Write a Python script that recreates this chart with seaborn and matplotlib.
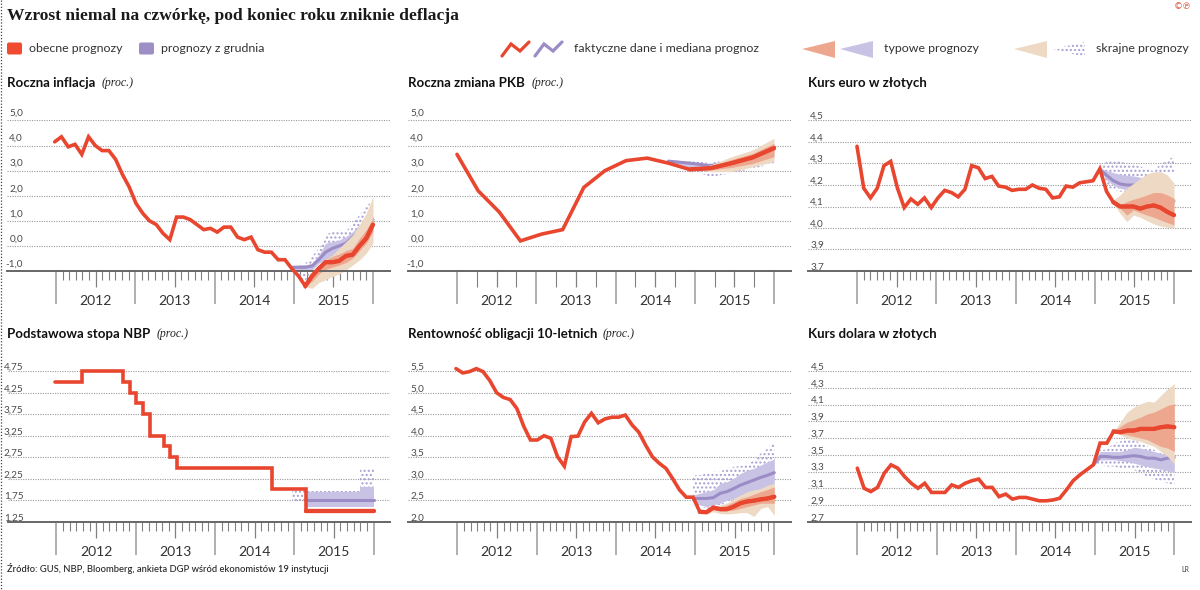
import numpy as np
import matplotlib
matplotlib.use("Agg")
import matplotlib.pyplot as plt
from matplotlib.patches import FancyBboxPatch, Polygon
from matplotlib.transforms import ScaledTranslation
import seaborn as sns

sns.set_style("white")
plt.rcParams["font.family"] = ["Lato", "DejaVu Sans"]

# ---------- data ----------
infl_values = [4.15,4.35,3.95,4.05,3.65,4.35,4.0,3.8,3.8,3.45,2.85,2.35,1.7,1.3,1.0,0.85,0.5,0.25,1.15,1.15,1.05,0.85,0.65,0.7,
               0.55,0.75,0.75,0.35,0.25,0.35,-0.15,-0.25,-0.25,-0.55,-0.55,-0.9,-1.2,-1.6,-1.2,-0.9,-0.65,-0.65,-0.6,-0.4,-0.35,0.0,0.3,0.85]
infl_tan_hi = [-1.55,-1.16,-.76,-.53,-.36,-.09,.17,.44,.84,1.3,1.97]
infl_tan_lo = [-1.62,-1.69,-1.46,-1.35,-1.22,-1.12,-.96,-.76,-.56,-.29,.11]
infl_red_hi = [-1.58,-1.22,-.89,-.56,-.42,-.32,-.19,-.09,.3,.64,1.10]
infl_red_lo = [-1.58,-1.42,-1.12,-.93,-.85,-.76,-.66,-.49,-.19,.11,.57]
infl_pur_med = [-.85,-.85,-.85,-.8,-.55,-.25,-.1,0,.1,.35,.6,.85,1.05]
infl_pur_hi = [-.86,-.76,-.76,-.69,-.36,.11,.17,.24,.37,.57,.84,1.1,1.17]
infl_pur_lo = [-.89,-1.02,-1.02,-.96,-.69,-.56,-.42,-.23,-.03,.24,.5,.7,.9]
infl_sti_hi = [-.82,-.76,-.69,-.42,-.09,.44,.57,.64,.57,.9,1.24,1.57,1.83]
infl_sti_lo = [-.89,-1.22,-1.42,-.96,-.69,-.62,-.42,-.29,-.16,.11,.37,.64,.97]
infl_ticks = [-1,0,1,2,3,4,5]
infl_labels = ["-1,0","0,0","1,0","2,0","3,0","4,0","5,0"]

pkb_values = [3.65,2.2,1.35,0.2,0.47,0.65,2.33,3.0,3.4,3.5,3.3,3.05,3.1,3.3,3.53,3.9]
pkb_tan_hi = [3.07,3.23,3.56,3.83,4.29]
pkb_tan_lo = [3.07,2.96,2.96,3.16,3.36]
pkb_red_hi = [3.07,3.19,3.45,3.69,4.09]
pkb_red_lo = [3.07,3.03,3.13,3.29,3.56]
pkb_pur_med = [3.38,3.3,3.2,3.35,3.55,3.85]
pkb_pur_hi = [3.42,3.35,3.25,3.4,3.6,3.95]
pkb_pur_lo = [3.36,3.15,3.05,3.25,3.45,3.75]
pkb_sti_hi = [3.4,3.4,3.3,3.5,3.8,4.1]
pkb_sti_lo = [3.38,3.05,2.75,2.9,3.07,3.3]

eur_values = [4.38,4.185,4.14,4.185,4.29,4.31,4.185,4.095,4.135,4.11,4.14,4.095,4.14,4.175,4.165,4.145,4.18,4.29,4.28,4.23,4.24,4.195,4.19,4.175,
              4.18,4.18,4.2,4.185,4.18,4.14,4.145,4.195,4.19,4.21,4.215,4.22,4.275,4.17,4.12,4.10,4.10,4.10,4.09,4.10,4.105,4.095,4.075,4.06]
eur_tan_hi = [4.13,4.154,4.185,4.208,4.231,4.252,4.261,4.262,4.247,4.208]
eur_tan_lo = [4.115,4.068,4.03,4.06,4.05,4.034,4.019,4.009,4.003,4.0]
eur_red_hi = [4.123,4.107,4.123,4.134,4.143,4.154,4.165,4.165,4.154,4.138]
eur_red_lo = [4.123,4.092,4.06,4.084,4.071,4.06,4.05,4.037,4.025,4.014]
eur_pur_med = [4.275,4.245,4.22,4.205,4.2,4.2,4.205,4.205,4.19,4.17,4.15,4.125]
eur_pur_hi = [4.273,4.267,4.258,4.25,4.245,4.242,4.236,4.231,4.22,4.2,4.17,4.13]
eur_pur_lo = [4.273,4.224,4.2,4.185,4.177,4.18,4.19,4.196,4.17,4.15,4.13,4.11]
eur_sti_hi = [4.273,4.309,4.309,4.309,4.301,4.293,4.286,4.278,4.262,4.301,4.309,4.34]
eur_sti_lo = [4.273,4.193,4.177,4.169,4.169,4.177,4.185,4.193,4.224,4.239,4.255,4.262]
eur_ticks = [3.8,3.9,4.0,4.1,4.2,4.3,4.4,4.5]
eur_labels = ["3,7","3,9","4,0","4,1","4,2","4,3","4,4","4,5"]

nbp_values = [4.5]*4 + [4.75]*6 + [4.5,4.25,4.0,3.75,3.25,3.25,3.0,2.75] + [2.5]*14 + [2.0]*5 + [1.5]*11
nbp_pur_med = [1.75]*11
nbp_pur_hi = [1.95]*8 + [2.05]*3
nbp_pur_lo = [1.6]*11
nbp_sti_hi = [1.97]*10 + [2.5]*3
nbp_sti_lo = [1.73,1.73] + [1.6]*11
nbp_ticks = [1.25,1.75,2.25,2.75,3.25,3.75,4.25,4.75]
nbp_labels = ["1,25","1,75","2,25","2,75","3,25","3,75","4,25","4,75"]

bond_values = [5.56,5.46,5.49,5.56,5.49,5.28,5.0,4.89,4.84,4.63,4.22,3.9,3.9,4.0,3.94,3.51,3.29,3.98,3.99,4.32,4.52,4.3,4.39,4.43,
               4.43,4.48,4.25,4.08,3.78,3.51,3.36,3.24,3.0,2.74,2.57,2.57,2.23,2.22,2.33,2.29,2.29,2.35,2.43,2.47,2.49,2.52,2.54,2.58]
bond_tan_hi = [2.23,2.23,2.35,2.39,2.43,2.54,2.62,2.7,2.74,2.77,2.85,2.89]
bond_tan_lo = [2.23,2.19,2.23,2.19,2.18,2.19,2.21,2.21,2.12,2.31,2.35,2.15]
bond_red_hi = [2.23,2.23,2.31,2.35,2.39,2.46,2.54,2.58,2.64,2.70,2.75,2.81]
bond_red_lo = [2.23,2.22,2.27,2.26,2.26,2.27,2.31,2.35,2.39,2.43,2.43,2.43]
bond_pur_med = [2.54,2.54,2.54,2.56,2.66,2.70,2.77,2.85,2.91,2.97,3.03,3.08,3.14]
bond_pur_hi = [2.62,2.66,2.70,2.74,2.89,2.93,3.01,3.12,3.2,3.24,3.32,3.39,3.46]
bond_pur_lo = [2.5,2.39,2.35,2.39,2.43,2.5,2.54,2.58,2.66,2.7,2.77,2.81,2.89]
bond_sti_hi = [3.08,3.08,3.12,3.16,3.16,3.24,3.28,3.29,3.32,3.43,3.59,3.70,3.84]
bond_sti_lo = [2.5,2.35,2.31,2.31,2.39,2.43,2.46,2.5,2.58,2.66,2.7,2.77,2.81]
bond_ticks = [2.0,2.5,3.0,3.5,4.0,4.5,5.0,5.5]
bond_labels = ["2,0","2,5","3,0","3,5","4,0","4,5","5,0","5,5"]

usd_values = [3.34,3.10,3.06,3.11,3.28,3.38,3.34,3.24,3.16,3.10,3.16,3.05,3.05,3.05,3.14,3.11,3.16,3.19,3.21,3.11,3.11,3.0,3.03,2.97,
              2.99,2.99,2.97,2.95,2.95,2.96,2.98,3.08,3.19,3.26,3.32,3.38,3.64,3.64,3.78,3.77,3.79,3.79,3.81,3.81,3.81,3.83,3.84,3.83]
usd_tan_hi = [3.78,3.89,4.01,4.07,4.11,4.14,4.13,4.21,4.29,4.35]
usd_tan_lo = [3.78,3.74,3.70,3.68,3.66,3.63,3.60,3.54,3.48,3.39]
usd_red_hi = [3.78,3.84,3.89,3.92,3.95,3.99,4.01,4.05,4.09,4.11]
usd_red_lo = [3.78,3.75,3.74,3.72,3.70,3.68,3.64,3.60,3.58,3.54]
usd_pur_med = [3.38,3.48,3.48,3.47,3.47,3.48,3.49,3.48,3.46,3.46,3.44,3.46,3.47]
usd_pur_hi = [3.38,3.54,3.54,3.54,3.54,3.56,3.59,3.58,3.56,3.54,3.52,3.50,3.48]
usd_pur_lo = [3.38,3.44,3.44,3.44,3.43,3.42,3.40,3.38,3.36,3.34,3.33,3.31,3.29]
usd_sti_hi = [3.38,3.56,3.56,3.64,3.66,3.68,3.68,3.64,3.6,3.56,3.52,3.5,3.48]
usd_sti_lo = [3.38,3.38,3.36,3.36,3.34,3.34,3.32,3.28,3.24,3.21,3.18,3.16,3.14]
usd_ticks = [2.7,2.9,3.1,3.3,3.5,3.7,3.9,4.1,4.3,4.5]
usd_labels = ["2,7","2,9","3,1","3,3","3,5","3,7","3,9","4,1","4,3","4,5"]

year_labels = ["2012","2013","2014","2015"]

RED = "#e8462f"; PUR = "#9b8cc6"; RED_B = "#eea78f"; TAN = "#eed9c4"; PUR_B = "#c8c2e4"; STI = "#a99fd2"
GRID = "#9a9a9a"; TXT = "#333333"

# ---------- layout ----------
W, H = 1200, 590
fig = plt.figure(figsize=(W/100, H/100), dpi=100)
PX = 317/48
def make_axes(x0, base, ylim):
    left = x0 - 49
    ax = fig.add_axes([left/W, 1-base/H, 383/W, 150.5/H])
    ax.set_xlim(-49/PX, 334/PX)
    ax.set_ylim(*ylim)
    ax.patch.set_alpha(0)
    return ax

def draw_panel(ax, start, values, fc_from, ticks, labels, dy, quarterly=False, nbp=False,
               tan=None, red=None, pur=None, sti=None, pur_from=0, sti_from=None):
    n = len(values)
    xs = np.linspace(start, 48, n)
    # bands
    sx = sti_from if sti_from is not None else pur_from
    if sti is not None:
        ax.fill_between(xs[sx:sx+len(sti[0])], sti[1], sti[0], facecolor="none", edgecolor=STI,
                        hatch="....", linewidth=0, zorder=1, clip_on=False, step="post" if nbp else None)
    if pur is not None:
        ax.fill_between(xs[pur_from:pur_from+len(pur[1])], pur[2], pur[1], color=PUR_B, lw=0, zorder=1.2,
                        clip_on=False, step="post" if nbp else None)
        sns.lineplot(x=xs[pur_from:pur_from+len(pur[0])], y=pur[0], ax=ax, color=PUR, linewidth=2.2,
                     zorder=1.4, clip_on=False, errorbar=None)
    if tan is not None:
        ax.fill_between(xs[fc_from:], tan[1], tan[0], color=TAN, lw=0, zorder=1.6, clip_on=False)
    if red is not None:
        ax.fill_between(xs[fc_from:], red[1], red[0], color=RED_B, lw=0, zorder=1.8, clip_on=False)
    # red line
    kw = dict(drawstyle="steps-post") if nbp else {}
    sns.lineplot(x=xs, y=values, ax=ax, color=RED, linewidth=2.6, zorder=3, clip_on=False, errorbar=None,
                 solid_joinstyle="miter", **kw)
    sns.lineplot(x=xs[fc_from:], y=values[fc_from:], ax=ax, color=RED, linewidth=3.1, zorder=3, clip_on=False,
                 errorbar=None, **kw)
    ax.set_xlabel(""); ax.set_ylabel("")
    # grid and axes
    ax.set_yticks(ticks, labels=labels)
    ax.grid(axis="y", color=GRID, lw=0.8, ls=(0, (1, 1.2)))
    ax.set_axisbelow(True)
    for s in ["top", "left", "right"]:
        ax.spines[s].set_visible(False)
    ax.spines["bottom"].set_color("#666666"); ax.spines["bottom"].set_linewidth(1.4)
    off = ScaledTranslation(16/100, dy/100, fig.dpi_scale_trans)
    ax.tick_params(axis="y", length=0, pad=0, labelsize=7.2, labelcolor="#4a4a4a")
    for l in ax.get_yticklabels():
        l.set_transform(l.get_transform() + off)
    ax.set_xticks(np.arange(0, 49, 12), labels=[])
    step = 3 if quarterly else 1
    minor = [m for m in range(0, 48, step) if m % 6]
    ax.set_xticks(minor, minor=True)
    ax.tick_params(axis="x", which="major", length=23.8, width=1.1, color="#9a9a9a", bottom=True)
    ax.tick_params(axis="x", which="minor", length=11.5 if quarterly else 6.5, width=0.8, color="#808080", bottom=True)
    # half-year ticks carry the year labels
    sec = ax.secondary_xaxis("bottom")
    sec.set_xticks(np.arange(6, 48, 12), labels=year_labels)
    sec.tick_params(axis="x", length=11.5, width=0.9, color="#808080", pad=5.8, labelsize=10, labelcolor="#333333", bottom=True)
    sec.spines["bottom"].set_visible(False)

ax1 = make_axes(56, 271, (-1, 5))
draw_panel(ax1, -0.2, infl_values, 37, infl_ticks, infl_labels, 8,
           tan=(infl_tan_hi, infl_tan_lo), red=(infl_red_hi, infl_red_lo),
           pur=(infl_pur_med, infl_pur_hi, infl_pur_lo), sti=(infl_sti_hi, infl_sti_lo), pur_from=35)

ax2 = make_axes(457, 271, (-1, 5))
draw_panel(ax2, 0, pkb_values, 11, infl_ticks, infl_labels, 8, quarterly=True,
           tan=(pkb_tan_hi, pkb_tan_lo), red=(pkb_red_hi, pkb_red_lo),
           pur=(pkb_pur_med, pkb_pur_hi, pkb_pur_lo), sti=(pkb_sti_hi, pkb_sti_lo), pur_from=10)

ax3 = make_axes(857, 271, (3.8, 4.5))
draw_panel(ax3, 0, eur_values, 38, eur_ticks, eur_labels, 5,
           tan=(eur_tan_hi, eur_tan_lo), red=(eur_red_hi, eur_red_lo),
           pur=(eur_pur_med, eur_pur_hi, eur_pur_lo), sti=(eur_sti_hi, eur_sti_lo), pur_from=36)

ax4 = make_axes(56.5, 521.7, (1.25, 4.75))
draw_panel(ax4, -0.2, nbp_values, 37, nbp_ticks, nbp_labels, 5, nbp=True,
           pur=(nbp_pur_med, nbp_pur_hi, nbp_pur_lo), sti=(nbp_sti_hi, nbp_sti_lo), pur_from=37, sti_from=35)

ax5 = make_axes(457.3, 521.7, (2.0, 5.5))
draw_panel(ax5, -0.2, bond_values, 36, bond_ticks, bond_labels, 5,
           tan=(bond_tan_hi, bond_tan_lo), red=(bond_red_hi, bond_red_lo),
           pur=(bond_pur_med, bond_pur_hi, bond_pur_lo), sti=(bond_sti_hi, bond_sti_lo), pur_from=35)

ax6 = make_axes(857.3, 521.7, (2.7, 4.5))
draw_panel(ax6, 0, usd_values, 38, usd_ticks, usd_labels, 5,
           tan=(usd_tan_hi, usd_tan_lo), red=(usd_red_hi, usd_red_lo),
           pur=(usd_pur_med, usd_pur_hi, usd_pur_lo), sti=(usd_sti_hi, usd_sti_lo), pur_from=35)

# ---------- overlay: titles, legend, notes ----------
ov = fig.add_axes([0, 0, 1, 1], zorder=10)
ov.set_xlim(0, W); ov.set_ylim(H, 0); ov.axis("off"); ov.patch.set_alpha(0)

ov.plot([1, 1], [0, H], color="#444444", lw=0.9, ls=(0, (1, 1.5)))
ov.text(7, 15.5, "Wzrost niemal na czwórkę, pod koniec roku zniknie deflacja", fontsize=12.6, fontweight="bold",
        family="Liberation Serif", color="#1a1a1a", va="center")
ov.text(1183, 6.5, "©℗", fontsize=6.5, color="#e0553a", va="center", ha="center", family=["DejaVu Sans"])

def st(x, y, s, size=8.9, **k):
    ov.text(x, y, s, fontsize=size, va="center", color=k.pop("color", TXT), **k)

st(29, 49, "obecne prognozy"); st(161, 49, "prognozy z grudnia")
st(574, 49, "faktyczne dane i mediana prognoz"); st(884, 49, "typowe prognozy"); st(1096, 49, "skrajne prognozy")
for x, c in ((7, "#f04a30"), (139, "#9d8fc6")):
    ov.add_patch(FancyBboxPatch((x+1, 43.5), 13, 10, boxstyle="round,pad=1,rounding_size=2", fc=c, ec="none"))
wave_x = np.array([0, 9, 18, 27.0])
wave_y = np.array([7, -5, 2, -7.0])
ov.plot(502 + wave_x, 49 + wave_y, color=RED, lw=2.3, solid_joinstyle="miter")
ov.plot(535 + wave_x, 49 + wave_y, color=PUR, lw=2.3, solid_joinstyle="miter")
for x, c in ((802, "#eea78f"), (840, PUR_B), (1014, TAN)):
    ov.add_patch(Polygon([(x, 49), (x+33, 41), (x+33, 58)], fc=c, ec="none"))
ov.add_patch(Polygon([(1053, 49), (1085, 42), (1085, 57)], fc="none", ec=STI, hatch="....", lw=0))

titles = [(7, 83, "Roczna inflacja", 102, "(proc.)"), (408, 83, "Roczna zmiana PKB", 532, "(proc.)"),
          (808, 83, "Kurs euro w złotych", None, ""), (7, 334, "Podstawowa stopa NBP", 157, "(proc.)"),
          (408, 334, "Rentowność obligacji 10-letnich", 603, "(proc.)"), (808, 334, "Kurs dolara w złotych", None, "")]
for x, y, t, xn, n in titles:
    ov.text(x, y, t, fontsize=9.5, fontweight="bold", color="#111111", va="center")
    if xn:
        ov.text(xn, y, n, fontsize=8.5, style="italic", family="Liberation Serif", color="#222222", va="center")
st(7, 568, "Źródło: GUS, NBP, Bloomberg, ankieta DGP wśród ekonomistów 19 instytucji", size=6.75, color="#222222", fontweight="medium")
st(1181, 570, "LR", size=5, color="#444444")

fig.savefig("out.png", dpi=100, facecolor="white")
